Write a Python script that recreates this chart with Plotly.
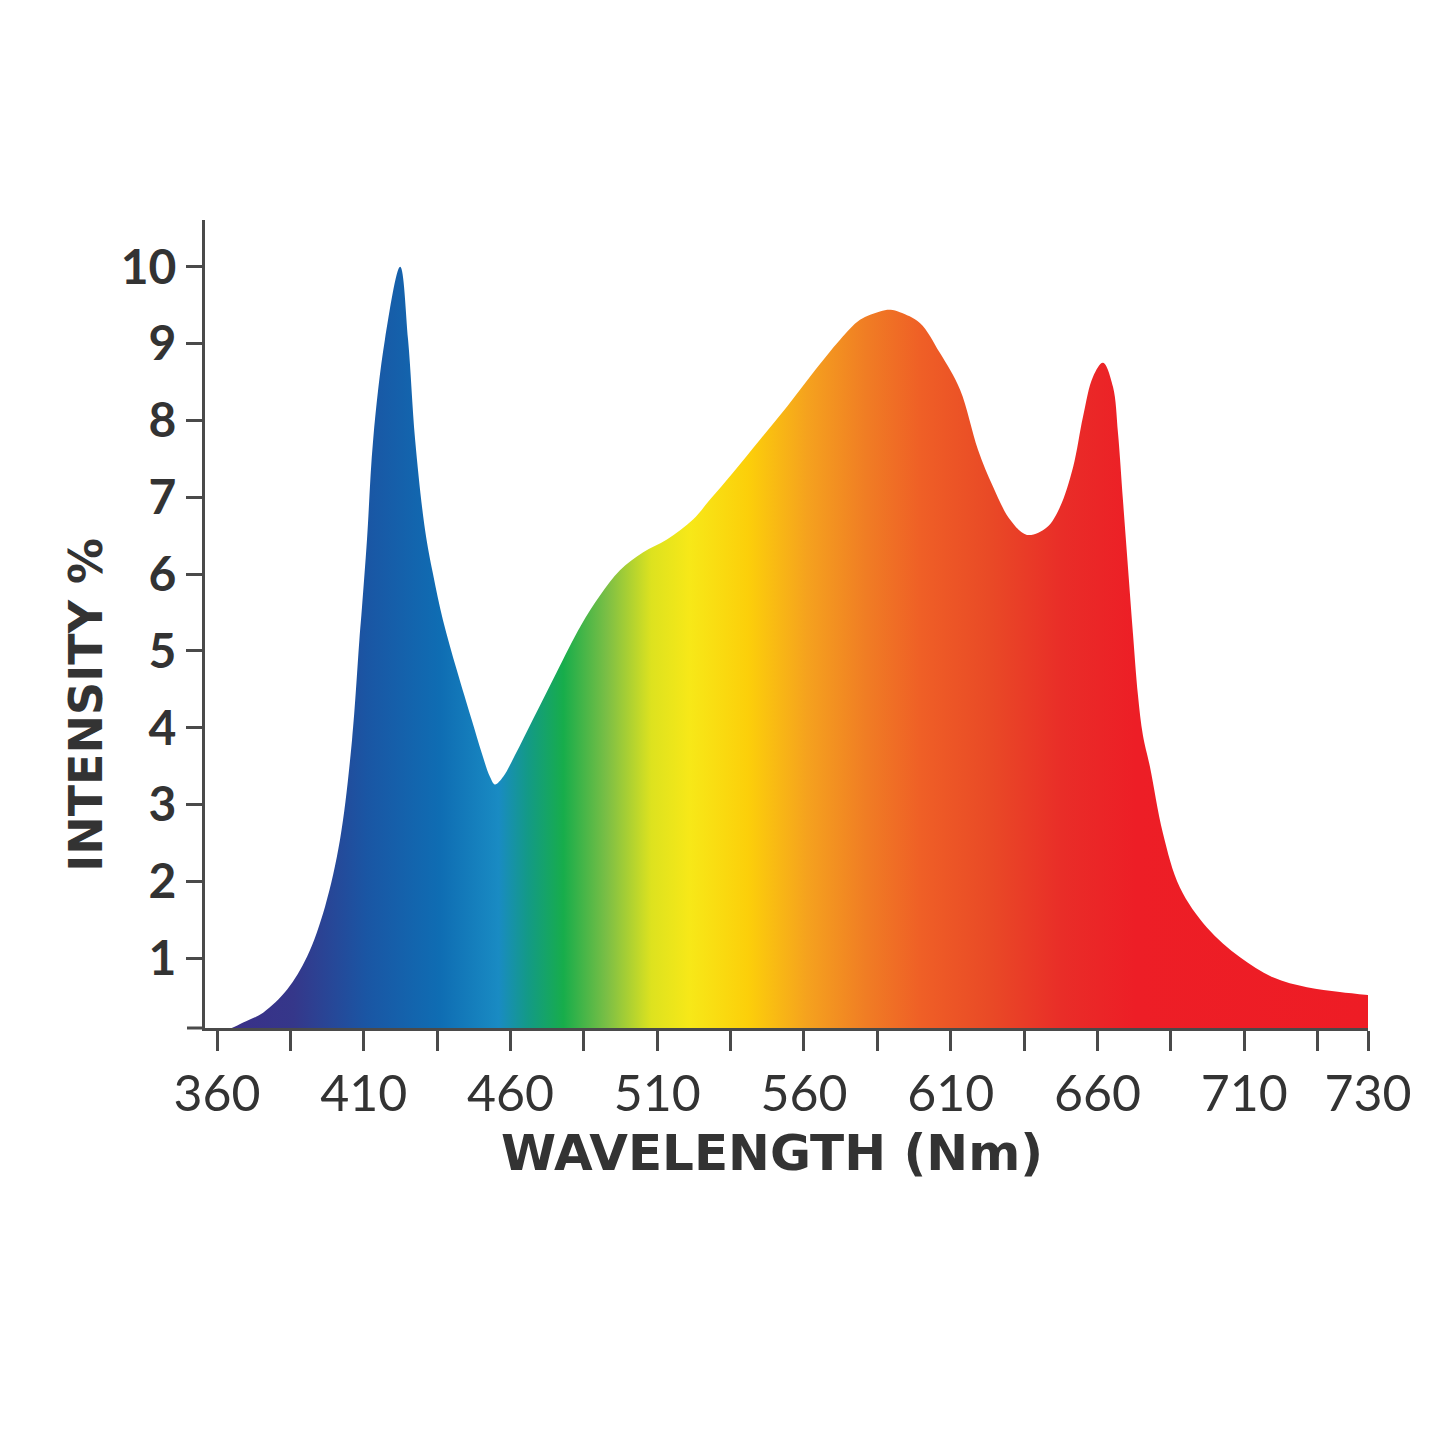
import plotly.graph_objects as go

# Spectrum outline (wavelength in nm, intensity %)
wavelength = [355.9, 360, 365, 368.9, 375.7, 383.9, 390.7, 396.8, 401.9, 406.0, 408.5,
              409.4, 411.1, 413.2, 417.2, 422.4, 425.1, 427.5, 430.9, 433.6, 437.0,
              441.7, 446.8, 450.2, 453.0, 454.7, 457.5, 461.5, 467.8, 475.7, 484.0,
              490.5, 497.3, 505.1, 513.3, 522.2, 528.0, 535.8, 545.0, 554.2, 563.1,
              572.3, 579.1, 585.9, 589.5, 592.7, 599.5, 606.3, 613.2, 619.3, 624.4,
              630.2, 636.0, 642.8, 647.2, 651.7, 655.1, 658.5, 661.9, 665.3, 667.0,
              668.7, 670.4, 672.1, 673.8, 675.5, 677.9, 682.3, 688.1, 697.3, 708.6,
              719.8, 731.4, 742.6, 752.2]
intensity = [0.04, 0.05, 0.09, 0.16, 0.29, 0.59, 1.02, 1.67, 2.54, 3.84, 5.14,
             5.57, 6.45, 7.75, 9.05, 10.0, 9.05, 7.75, 6.57, 6.00, 5.40,
             4.75, 4.10, 3.67, 3.36, 3.26, 3.36, 3.64, 4.12, 4.72, 5.33,
             5.72, 6.05, 6.28, 6.45, 6.71, 6.97, 7.32, 7.75, 8.18, 8.62,
             9.05, 9.31, 9.42, 9.44, 9.41, 9.27, 8.88, 8.40, 7.62, 7.14,
             6.71, 6.51, 6.61, 6.87, 7.39, 8.05, 8.57, 8.75, 8.44, 7.84,
             6.96, 6.09, 5.23, 4.43, 3.90, 3.49, 2.63, 1.92, 1.40, 1.01,
             0.75, 0.62, 0.56, 0.52]

# Rainbow gradient stops (wavelength -> colour)
gradient_nm = [355.9, 386, 411, 436, 456, 466, 478, 493, 508, 521, 541, 561, 581,
               600, 623, 648, 673, 752.2]
gradient_colors = ["#3c2d87", "#35378a", "#1a56a4", "#0f6db3", "#198bc3", "#139a86",
                   "#17ad4b", "#7cbf45", "#dde21f", "#f7e818", "#fccf0a", "#f5a21e",
                   "#f07d24", "#ef5f26", "#e94a26", "#e92d28", "#ed1e26", "#ee1c25"]

x_tick_values = [360, 385, 410, 435, 460, 485, 510, 535, 560, 585, 610, 635, 660,
                 685, 710, 735, 752.2]
x_tick_labels = ["360", "", "410", "", "460", "", "510", "", "560", "", "610", "",
                 "660", "", "710", "", "730"]
y_tick_values = [1, 2, 3, 4, 5, 6, 7, 8, 9, 10]
x_title = "WAVELENGTH (Nm)"
y_title = "INTENSITY %"

x_start, x_end = 355.9, 752.2
scale = [[(w - x_start) / (x_end - x_start), c] for w, c in zip(gradient_nm, gradient_colors)]

fig = go.Figure()
fig.add_trace(go.Scatter(
    x=wavelength, y=intensity, mode="lines",
    line=dict(width=1, color="rgba(0,0,0,0)", shape="spline", smoothing=1, simplify=False),
    fill="tozeroy",
    fillgradient=dict(type="horizontal", colorscale=scale, start=x_start, stop=x_end),
    hoverinfo="skip", showlegend=False,
))

axis_color = "#4a4a4a"
text_color = "#333333"

fig.update_layout(
    width=1445, height=1445, autosize=False,
    margin=dict(l=197, r=85, t=212, b=425),
    paper_bgcolor="white", plot_bgcolor="white",
    xaxis=dict(
        range=[x_start, x_end], showgrid=False, zeroline=False,
        showline=True, linecolor=axis_color, linewidth=3,
        ticks="outside", ticklen=20, tickwidth=3, tickcolor=axis_color,
        tickvals=x_tick_values, ticktext=x_tick_labels,
        tickfont=dict(family="Lato", size=50, color=text_color),
    ),
    yaxis=dict(
        range=[0.09, 10.61], showgrid=False, zeroline=False,
        showline=True, linecolor=axis_color, linewidth=3,
        ticks="outside", ticklen=16, tickwidth=3, tickcolor=axis_color,
        tickvals=y_tick_values,
        tickfont=dict(family="Lato", size=48, color=text_color, weight="bold"),
    ),
    annotations=[
        dict(text=x_title, xref="paper", yref="paper", x=0.4875, y=-0.1548,
             xanchor="center", yanchor="middle", showarrow=False,
             font=dict(family="DejaVu Sans", size=50, color=text_color, weight="bold")),
        dict(text=y_title, xref="paper", yref="paper", x=-0.1024, y=0.3998,
             xanchor="center", yanchor="middle", textangle=-90, showarrow=False,
             font=dict(family="DejaVu Sans", size=46, color=text_color, weight="bold")),
    ],
    shapes=[
        dict(type="line", xref="paper", yref="paper", x0=-0.0155, x1=0, y0=0, y1=0,
             line=dict(color=axis_color, width=3)),
    ],
)

fig.write_html("out.html")
